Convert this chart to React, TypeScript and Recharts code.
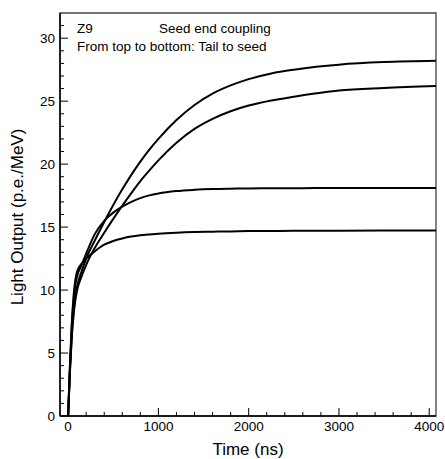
import React from "react";
import { LineChart, Line, XAxis, YAxis, ReferenceArea } from "recharts";

// Time samples (ns)
const TIME = [0, 20, 40, 60, 80, 100, 150, 200, 300, 400, 500, 600, 700, 800, 900, 1000, 1200, 1400, 1600, 1800, 2000, 2250, 2500, 2750, 3000, 3500, 4075];

// Light output (p.e./MeV), from top to bottom: tail to seed
const TAIL = [0, 3.6, 6.4, 8.3, 9.5, 10.3, 11.5, 12.5, 14.0, 15.4, 16.75, 18.0, 19.15, 20.2, 21.15, 22.0, 23.5, 24.7, 25.6, 26.25, 26.75, 27.2, 27.5, 27.73, 27.9, 28.1, 28.2];
const SECOND = [0, 3.5, 6.2, 8.0, 9.2, 10.0, 11.1, 12.0, 13.4, 14.55, 15.65, 16.7, 17.7, 18.65, 19.5, 20.3, 21.7, 22.8, 23.6, 24.2, 24.65, 25.05, 25.35, 25.62, 25.85, 26.05, 26.2];
const THIRD = [0, 3.9, 7.0, 9.1, 10.4, 11.1, 12.0, 12.9, 14.5, 15.5, 16.15, 16.62, 17.0, 17.3, 17.52, 17.67, 17.86, 17.96, 18.02, 18.05, 18.07, 18.08, 18.09, 18.1, 18.1, 18.1, 18.1];
const SEED = [0, 4.0, 7.3, 9.5, 10.8, 11.5, 12.1, 12.5, 13.1, 13.6, 13.9, 14.1, 14.25, 14.35, 14.42, 14.48, 14.56, 14.61, 14.64, 14.66, 14.68, 14.69, 14.7, 14.7, 14.71, 14.72, 14.72];

const X_TICKS = [0, 200, 400, 600, 800, 1000, 1200, 1400, 1600, 1800, 2000, 2200, 2400, 2600, 2800, 3000, 3200, 3400, 3600, 3800, 4000];
const X_LABELS = [0, 1000, 2000, 3000, 4000];
const Y_TICKS = [0, 1, 2, 3, 4, 5, 6, 7, 8, 9, 10, 11, 12, 13, 14, 15, 16, 17, 18, 19, 20, 21, 22, 23, 24, 25, 26, 27, 28, 29, 30, 31];
const Y_LABELS = [0, 5, 10, 15, 20, 25, 30];

const X_DOMAIN: [number, number] = [-90, 4075];
const Y_DOMAIN: [number, number] = [0, 32];

const data = TIME.map((t, i) => ({ t, tail: TAIL[i], second: SECOND[i], third: THIRD[i], seed: SEED[i] }));

const FONT = "'Liberation Sans', Arial, Helvetica, sans-serif";

const XTick = (props: any) => {
  const { x, y, payload } = props;
  const major = X_LABELS.includes(payload.value);
  return (
    <g>
      <line x1={x} y1={y} x2={x} y2={y - (major ? 8 : 4)} stroke="#000" strokeWidth={1} />
      {major && (
        <text x={x} y={y + 15} textAnchor="middle" fontSize={13.5} fontFamily={FONT} fill="#000">
          {payload.value}
        </text>
      )}
    </g>
  );
};

const YTick = (props: any) => {
  const { x, y, payload } = props;
  const major = Y_LABELS.includes(payload.value);
  return (
    <g>
      <line x1={x} y1={y} x2={x + (major ? 8 : 4)} y2={y} stroke="#000" strokeWidth={1} />
      {major && (
        <text x={x - 5} y={y + 4.8} textAnchor="end" fontSize={13.5} fontFamily={FONT} fill="#000">
          {payload.value}
        </text>
      )}
    </g>
  );
};

const SERIES = ["tail", "second", "third", "seed"];

export default function App() {
  return (
    <div style={{ position: "absolute", left: 0, top: 0, width: 445, height: 459, background: "#fff" }}>
      <LineChart width={445} height={459} data={data} margin={{ top: 13, right: 9, left: 0, bottom: 0 }}>
        <XAxis
          type="number"
          dataKey="t"
          domain={X_DOMAIN}
          ticks={X_TICKS}
          interval={0}
          allowDataOverflow
          height={43}
          tickSize={0}
          tickMargin={0}
          tickLine={false}
          tick={<XTick />}
          axisLine={{ stroke: "#000", strokeWidth: 1.5 }}
        />
        <YAxis
          type="number"
          domain={Y_DOMAIN}
          ticks={Y_TICKS}
          interval={0}
          allowDataOverflow
          width={60}
          tickSize={0}
          tickMargin={0}
          tickLine={false}
          tick={<YTick />}
          axisLine={{ stroke: "#000", strokeWidth: 1.5 }}
        />
        <ReferenceArea
          x1={X_DOMAIN[0]}
          x2={X_DOMAIN[1]}
          y1={Y_DOMAIN[0]}
          y2={Y_DOMAIN[1]}
          fill="none"
          stroke="#444"
          strokeWidth={1.3}
          ifOverflow="visible"
        />
        {SERIES.map((k) => (
          <Line
            key={k}
            type="monotone"
            dataKey={k}
            stroke="#000"
            strokeWidth={2}
            dot={false}
            isAnimationActive={false}
          />
        ))}
      </LineChart>
      <svg width={445} height={459} style={{ position: "absolute", left: 0, top: 0, pointerEvents: "none" }}>
        <text x={77} y={32.5} fontSize={13.5} fontFamily={FONT} fill="#000">Z9</text>
        <text x={159} y={32.5} fontSize={13.5} fontFamily={FONT} fill="#000">Seed end coupling</text>
        <text x={77} y={51} fontSize={13.5} fontFamily={FONT} fill="#000">From top to bottom: Tail to seed</text>
        <text x={248} y={455} textAnchor="middle" fontSize={17} fontFamily={FONT} fill="#000">Time (ns)</text>
        <text x={23} y={217} textAnchor="middle" fontSize={17} fontFamily={FONT} fill="#000" transform="rotate(-90, 23, 217)">
          Light Output (p.e./MeV)
        </text>
      </svg>
    </div>
  );
}
